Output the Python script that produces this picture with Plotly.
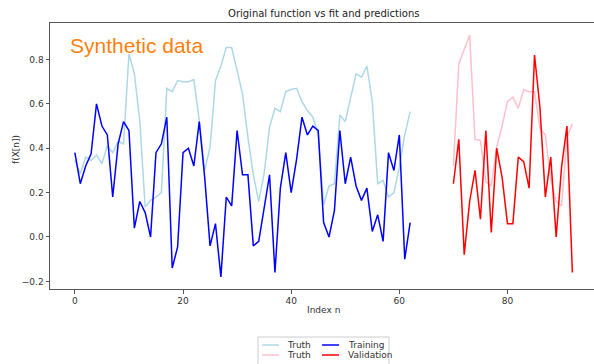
import plotly.graph_objects as go

train_idx = list(range(0, 63))
val_idx = list(range(70, 93))

truth_train = [0.345, 0.285, 0.36, 0.345, 0.37, 0.33, 0.41, 0.38, 0.43, 0.42,
               0.825, 0.735, 0.525, 0.135, 0.165, 0.18, 0.20, 0.67, 0.655, 0.705,
               0.70, 0.70, 0.71, 0.525, 0.30, 0.405, 0.705, 0.77, 0.855, 0.853,
               0.75, 0.645, 0.45, 0.28, 0.16, 0.285, 0.495, 0.58, 0.565, 0.655,
               0.665, 0.67, 0.61, 0.57, 0.54, 0.46, 0.145, 0.23, 0.24, 0.55,
               0.52, 0.63, 0.735, 0.72, 0.77, 0.61, 0.24, 0.255, 0.18, 0.20,
               0.315, 0.46, 0.565]

training = [0.38, 0.24, 0.32, 0.375, 0.60, 0.50, 0.46, 0.18, 0.42, 0.52,
            0.48, 0.04, 0.16, 0.11, 0.0, 0.38, 0.42, 0.54, -0.14, -0.045,
            0.38, 0.40, 0.32, 0.52, 0.27, -0.04, 0.06, -0.18, 0.18, 0.14,
            0.48, 0.28, 0.28, -0.04, -0.02, 0.13, 0.28, -0.16, 0.22, 0.38,
            0.20, 0.35, 0.54, 0.46, 0.50, 0.48, 0.065, 0.0, 0.12, 0.48,
            0.24, 0.36, 0.23, 0.165, 0.22, 0.025, 0.10, -0.02, 0.38, 0.30,
            0.46, -0.10, 0.065]

truth_val = [0.32, 0.78, 0.845, 0.91, 0.44, 0.435, 0.25, 0.23, 0.405, 0.50,
             0.61, 0.63, 0.58, 0.665, 0.655, 0.655, 0.49, 0.46, 0.26, 0.16,
             0.14, 0.45, 0.51]

validation = [0.24, 0.44, -0.08, 0.16, 0.30, 0.08, 0.48, 0.02, 0.40, 0.27,
              0.06, 0.06, 0.36, 0.34, 0.22, 0.82, 0.585, 0.18, 0.36, 0.0,
              0.315, 0.50, -0.16]

series_names = ["Truth", "Truth", "Training", "Validation"]
series_colors = ["#add8e6", "#ffc0cb", "#0000ff", "#ff0000"]

x_ticks = [0, 20, 40, 60, 80]
y_ticks = [-0.2, 0.0, 0.2, 0.4, 0.6, 0.8]
y_tick_text = ["\u22120.2", "0.0", "0.2", "0.4", "0.6", "0.8"]

fig = go.Figure()
lw = 1.5
for xs, ys, name, color in [(train_idx, truth_train, series_names[0], series_colors[0]),
                            (val_idx, truth_val, series_names[1], series_colors[1]),
                            (train_idx, training, series_names[2], series_colors[2]),
                            (val_idx, validation, series_names[3], series_colors[3])]:
    fig.add_trace(go.Scatter(x=xs, y=ys, mode="lines", name=name,
                             line=dict(color=color, width=lw), showlegend=False))

axis_common = dict(showgrid=False, zeroline=False, showline=True, linecolor="#555555",
                   linewidth=1, ticks="outside", ticklen=3.5, tickcolor="#555555",
                   tickfont=dict(size=9, color="#333333"))

W, H = 594, 364
L, T, B = 50, 23, 75
pw, ph = W - L, H - T - B


def px(xp):
    return (xp - L) / pw


def py(yp):
    return (H - B - yp) / ph


# legend drawn as a boxed 2-column key below the axes
shapes = [dict(type="rect", xref="paper", yref="paper", x0=px(258), x1=px(389),
               y0=py(366), y1=py(337), line=dict(color="#cccccc", width=1),
               fillcolor="white", layer="above")]
annotations = [dict(text="Synthetic data", xref="paper", yref="paper",
                    x=px(68), y=py(46), xanchor="left", yanchor="middle",
                    showarrow=False, font=dict(size=21, color="#ff7f0e", family="Liberation Sans")),
               dict(text="Index n", xref="paper", yref="paper", x=px(323), y=py(310),
                    xanchor="center", yanchor="middle", showarrow=False,
                    font=dict(size=9, color="#333333")),
               dict(text="f(X[n])", xref="paper", yref="paper", x=px(16), y=py(150),
                    xanchor="center", yanchor="middle", showarrow=False, textangle=-90,
                    font=dict(size=9, color="#333333"))]
cols = [(262, 285), (322, 346)]
rows = [345, 355]
for i, (name, color) in enumerate(zip(series_names, series_colors)):
    c, r = divmod(i, 2)
    lx, tx = cols[c]
    ry = rows[r]
    shapes.append(dict(type="line", xref="paper", yref="paper", x0=px(lx), x1=px(lx + 17),
                       y0=py(ry), y1=py(ry), line=dict(color=color, width=1.5), layer="above"))
    annotations.append(dict(text=name, xref="paper", yref="paper", x=px(tx), y=py(ry),
                            xanchor="left", yanchor="middle", showarrow=False,
                            font=dict(size=9, color="#333333")))

fig.update_layout(
    width=W, height=H,
    margin=dict(l=L, r=0, t=T, b=B, autoexpand=False),
    paper_bgcolor="white", plot_bgcolor="white",
    font=dict(family="DejaVu Sans", size=9, color="#333333"),
    title=dict(text="Original function vs fit and predictions", x=0.545, xanchor="center",
               y=1 - 13 / H, yanchor="middle", font=dict(size=10, color="#222222")),
    xaxis=dict(range=[-4.6, 96.0], tickvals=x_ticks, mirror=True, **axis_common),
    yaxis=dict(range=[-0.2345, 0.9645], tickvals=y_ticks, ticktext=y_tick_text, **axis_common),
    showlegend=False,
    shapes=shapes,
    annotations=annotations,
)

fig.write_html("out.html")
